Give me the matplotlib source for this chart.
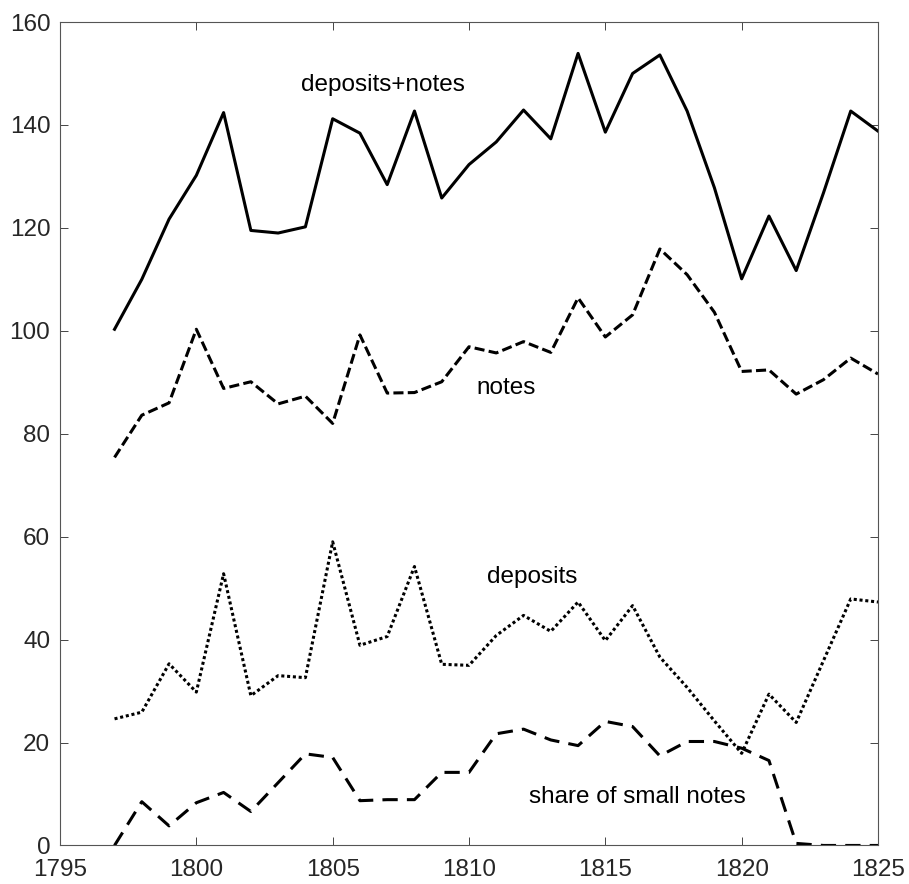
import matplotlib
matplotlib.use("Agg")
import matplotlib.pyplot as plt

years = list(range(1797, 1826))

deposits_plus_notes = [100.3, 110.0, 121.7, 130.2, 142.4, 119.5, 119.0, 120.2, 141.2, 138.4,
                       128.4, 142.7, 125.8, 132.3, 136.7, 142.9, 137.3, 153.9, 138.6, 150.0,
                       153.6, 142.7, 127.8, 110.1, 122.3, 111.7, 126.8, 142.7, 138.8]

notes = [75.4, 83.6, 86.0, 100.3, 88.8, 90.1, 85.8, 87.3, 82.0, 99.2,
         87.9, 88.0, 90.1, 96.9, 95.7, 97.9, 95.8, 106.4, 98.8, 103.1,
         115.9, 110.9, 103.6, 92.1, 92.4, 87.7, 90.5, 94.7, 91.6]

deposits = [24.6, 25.9, 35.3, 29.8, 52.8, 29.1, 33.0, 32.6, 59.0, 38.9,
            40.6, 54.2, 35.2, 35.0, 40.8, 44.7, 41.6, 47.3, 39.8, 46.6,
            36.6, 30.7, 24.2, 17.9, 29.4, 23.9, 35.9, 47.9, 47.3]

small_notes_share = [0.0, 8.5, 3.8, 8.3, 10.3, 6.6, 12.2, 17.8, 17.1, 8.7,
                     8.9, 8.9, 14.2, 14.2, 21.7, 22.6, 20.5, 19.4, 24.1, 23.1,
                     17.4, 20.2, 20.2, 18.9, 16.5, 0.4, 0.0, 0.0, 0.0]

x_ticks = [1795, 1800, 1805, 1810, 1815, 1820, 1825]
y_ticks = [0, 20, 40, 60, 80, 100, 120, 140, 160]

plt.rcParams['font.family'] = ['Liberation Sans', 'DejaVu Sans']

fig = plt.figure(figsize=(9.09, 8.84), dpi=100)
ax = fig.add_axes([0.066, 0.0436, 0.8999, 0.9315])

lw = 2.2
ax.plot(years, deposits_plus_notes, color='black', lw=lw, linestyle='-')
ax.plot(years, notes, color='black', lw=lw, linestyle=(0, (3.3, 1.4)))
ax.plot(years, deposits, color='black', lw=lw, linestyle=(0, (1, 0.9)))
ax.plot(years, small_notes_share, color='black', lw=lw, linestyle=(0, (5, 3)))

fs = 17.5
ax.text(1806.84, 147.8, 'deposits+notes', fontsize=fs, ha='center', va='center')
ax.text(1811.35, 88.9, 'notes', fontsize=fs, ha='center', va='center')
ax.text(1812.3, 52.2, 'deposits', fontsize=fs, ha='center', va='center')
ax.text(1816.18, 9.5, 'share of small notes', fontsize=fs, ha='center', va='center')

ax.set_xlim(1795, 1825)
ax.set_ylim(0, 160)
ax.set_xticks(x_ticks)
ax.set_yticks(y_ticks)
ax.tick_params(direction='in', length=5.5, width=0.7, color='#444444',
               labelsize=fs, labelcolor='#262626', top=True, right=True)
ax.tick_params(axis='x', pad=10)
ax.tick_params(axis='y', pad=7)
for sp in ax.spines.values():
    sp.set_color('#555555')
    sp.set_linewidth(0.8)

fig.savefig('out.png', dpi=100)
